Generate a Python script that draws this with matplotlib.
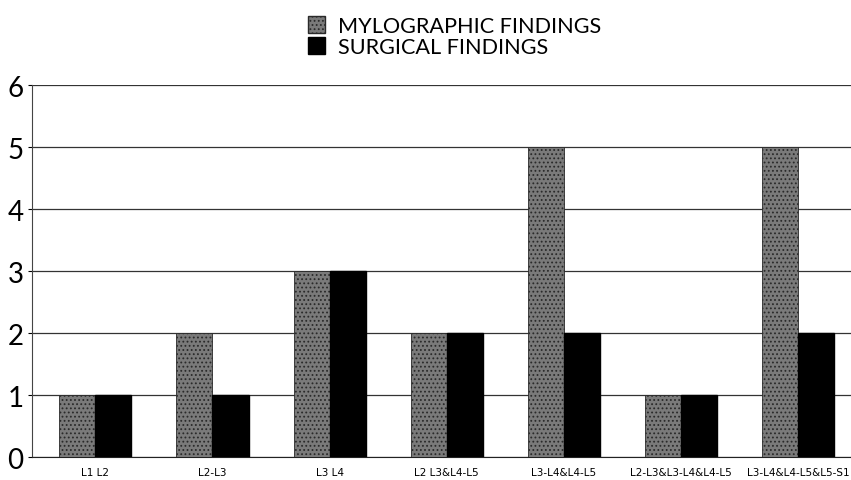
import numpy as np
import matplotlib
matplotlib.use("Agg")
import matplotlib.pyplot as plt
from matplotlib.patches import Patch

levels = ["L1 L2", "L2-L3", "L3 L4", "L2 L3&L4-L5", "L3-L4&L4-L5",
          "L2-L3&L3-L4&L4-L5", "L3-L4&L4-L5&L5-S1"]
mylographic = [1, 2, 3, 2, 5, 1, 5]
surgical = [1, 1, 3, 2, 2, 1, 2]

plt.rcParams['hatch.linewidth'] = 0.8
plt.rcParams['font.family'] = ['Lato', 'DejaVu Sans']

fig = plt.figure(figsize=(8.51, 4.81), dpi=100)
ax = fig.add_axes([0.0376, 0.0478, 0.9624, 0.7732])

x = np.arange(len(levels))
w = 0.308
ax.bar(x - w / 2, mylographic, w, color='#7a7a7a', edgecolor='#2a2a2a',
       hatch='....', linewidth=0.6, zorder=3)
ax.bar(x + w / 2, surgical, w, color='black', edgecolor='black', zorder=3)

ax.set_xlim(-0.54, 6.45)
ax.set_ylim(0, 6)
ax.set_yticks(range(7))
ax.yaxis.grid(True, color='#333333', linewidth=0.9, zorder=0)
ax.set_xticks(x)
ax.set_xticklabels(levels, fontsize=7.5, family='DejaVu Sans')
ax.tick_params(axis='x', length=0, pad=7)
ax.tick_params(axis='y', labelsize=20, length=3, pad=3)
for s in ['top', 'right']:
    ax.spines[s].set_visible(False)
ax.spines['left'].set_color('#444444')
ax.spines['bottom'].set_color('#222222')

handles = [Patch(facecolor='#7a7a7a', edgecolor='#2a2a2a', hatch='....'),
           Patch(facecolor='black', edgecolor='black')]
fig.legend(handles, ["MYLOGRAPHIC FINDINGS", "SURGICAL FINDINGS"],
           loc='upper center', bbox_to_anchor=(0.534, 1.005), frameon=False,
           fontsize=15.6, handlelength=0.8, handleheight=0.8,
           handletextpad=0.6, labelspacing=0.05)

fig.savefig("out.png", dpi=100)
